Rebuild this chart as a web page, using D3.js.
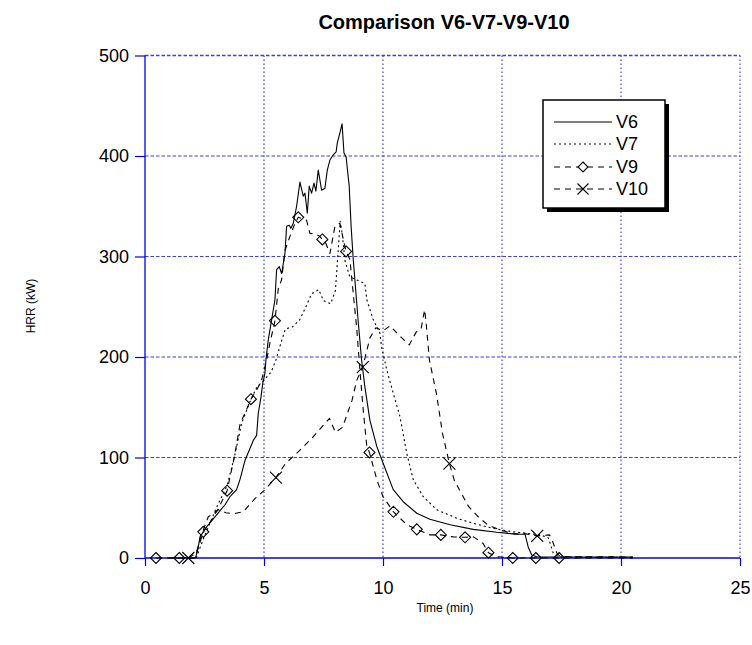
<!DOCTYPE html>
<html>
<head>
<meta charset="utf-8">
<script src="https://cdn.jsdelivr.net/npm/d3@7/dist/d3.min.js"></script>
<style>
  html, body { margin: 0; padding: 0; background: #ffffff; }
  svg { display: block; font-family: "Liberation Sans", Arial, Helvetica, sans-serif; }
</style>
</head>
<body>
<svg id="chart" width="752" height="645"></svg>
<script>
// Heat release rate histories (time in min, HRR in kW)
const v6Time = [1.0, 2.1, 2.14, 2.24, 2.31, 2.59, 3.01, 3.36, 3.57, 3.85, 3.99, 4.2, 4.41, 4.55, 4.69, 4.76, 4.86, 4.95, 5.04, 5.08, 5.18, 5.32, 5.39, 5.46, 5.53, 5.64, 5.74, 5.88, 5.95, 6.06, 6.13, 6.23, 6.37, 6.51, 6.65, 6.72, 6.82, 6.9, 7.0, 7.1, 7.18, 7.28, 7.42, 7.56, 7.66, 7.77, 7.91, 8.03, 8.08, 8.19, 8.28, 8.36, 8.45, 8.58, 8.66, 8.75, 8.96, 9.1, 9.24, 9.45, 9.74, 10.01, 10.43, 10.85, 11.42, 11.97, 12.82, 13.79, 14.78, 15.62, 15.97, 16.1, 16.25, 16.46, 20.5];
const v6Value = [0, 0, 1.3, 11, 21, 31, 43, 53, 61, 68, 78, 97, 109, 117, 122, 144, 158, 174, 184, 197, 217, 237, 247, 257, 287, 290, 283, 303, 330, 331, 328, 333, 350, 374, 360, 363, 343, 370, 363, 373, 365, 386, 366, 368, 386, 396, 401, 404, 413, 423, 432, 403, 399, 370, 330, 297, 235, 197, 170, 137, 111, 94, 68, 56, 44.5, 38.5, 33, 28.5, 25.6, 23.6, 23.6, 11, 3, 1.3, 1];

const v7Time = [2.15, 2.5, 3.0, 3.45, 3.75, 4.06, 4.45, 4.7, 5.0, 5.3, 5.5, 5.7, 5.9, 6.2, 6.5, 6.8, 7.0, 7.3, 7.5, 7.8, 8.0, 8.1, 8.2, 8.3, 8.4, 8.6, 8.96, 9.24, 9.32, 9.59, 9.87, 9.94, 10.16, 10.43, 10.71, 11.0, 11.27, 11.69, 12.26, 13.1, 13.8, 14.63, 15.47, 16.04, 16.6, 16.95, 17.15, 17.4, 20.5];
const v7Value = [0, 22, 50, 72, 100, 134, 158, 170, 177, 185, 197, 213, 228, 230, 237, 252, 263, 267, 256, 253, 266, 300, 335, 320, 296, 280, 276, 273, 257, 237, 224, 210, 187, 164, 141, 104, 78, 61, 48, 39.5, 34.5, 29.5, 26, 24.6, 23, 20, 5, 1, 0.5];

const v9Time = [0.46, 1.44, 2.1, 2.45, 2.8, 3.1, 3.45, 3.75, 4.0, 4.2, 4.45, 4.69, 4.9, 5.11, 5.25, 5.46, 5.6, 5.74, 5.88, 6.09, 6.3, 6.44, 6.79, 6.93, 7.2, 7.35, 7.45, 7.6, 7.77, 7.98, 8.19, 8.35, 8.45, 8.61, 8.75, 8.89, 9.03, 9.17, 9.32, 9.43, 9.74, 10.0, 10.44, 11.0, 11.42, 11.97, 12.43, 12.95, 13.45, 13.8, 14.2, 14.43, 14.78, 15.45, 16.42, 17.4, 20.5];
const v9Value = [0, 0, 0, 26, 38, 50, 67, 100, 134, 144, 158, 167, 177, 197, 214, 236, 268, 277, 306, 320, 333, 339, 336, 323, 322, 320, 317, 313, 303, 330, 333, 315, 305, 297, 263, 230, 187, 147, 111, 105, 78, 61, 46, 33, 28.5, 23, 23, 21, 20.6, 21, 14.6, 5.3, 1.3, 0, 0, 0, 0];
const v9MarkerTimes = [0.46, 1.44, 2.45, 3.45, 4.45, 5.46, 6.44, 7.45, 8.45, 9.43, 10.44, 11.42, 12.43, 13.45, 14.43, 15.45, 16.42, 17.4];

const v10Time = [1.82, 2.15, 2.4, 2.66, 3.08, 3.4, 3.71, 4.13, 4.62, 5.04, 5.5, 5.9, 6.5, 7.0, 7.6, 7.75, 8.0, 8.3, 8.7, 8.9, 9.15, 9.45, 9.7, 10.0, 10.3, 10.7, 11.1, 11.4, 11.6, 11.75, 11.8, 11.95, 12.25, 12.5, 12.79, 13.0, 13.3, 13.6, 14.0, 14.4, 14.9, 15.5, 16.0, 16.48, 17.0, 17.15, 17.3, 17.45, 20.5];
const v10Value = [0, 5, 25, 41, 48, 45, 44, 46, 59, 68, 80, 94, 107, 119, 135, 139, 125, 130, 157, 177, 190, 219, 229, 226, 231, 221, 212, 225, 228, 247, 237, 197, 163, 124, 94, 77, 64, 51, 41, 33, 28, 24, 24, 22, 23, 15, 5, 1.3, 1];
const v10MarkerTimes = [1.82, 5.5, 9.15, 12.79, 16.48];

const xTicks = [0, 5, 10, 15, 20, 25];
const yTicks = [0, 100, 200, 300, 400, 500];
const seriesNames = ["V6", "V7", "V9", "V10"];

const svg = d3.select("#chart");
const plot = { left: 145, right: 740, top: 55.5, bottom: 558 };
const x = d3.scaleLinear().domain([0, 25]).range([plot.left, plot.right]);
const y = d3.scaleLinear().domain([0, 500]).range([plot.bottom, plot.top]);
const axisBlue = "#0000ee";
const gridBlue = "#3a3aff";

// grid
const grid = svg.append("g");
grid.selectAll("line.vg").data(xTicks.filter(t => t > 0)).join("line")
  .attr("x1", d => x(d)).attr("x2", d => x(d))
  .attr("y1", plot.top).attr("y2", plot.bottom)
  .attr("stroke", gridBlue).attr("stroke-width", 1.2)
  .attr("stroke-dasharray", "1.5,2.5");
grid.selectAll("line.hg").data(yTicks.filter(t => t > 0)).join("line")
  .attr("x1", plot.left).attr("x2", plot.right)
  .attr("y1", d => y(d)).attr("y2", d => y(d))
  .attr("stroke", gridBlue).attr("stroke-width", d => d === 500 ? 1.6 : 1.1)
  .attr("stroke-dasharray", "3.5,2");

// axes
const fontSize = 18;
const yAxis = svg.append("g").attr("transform", `translate(${plot.left},0)`)
  .call(d3.axisLeft(y).tickValues(yTicks).tickSize(10).tickPadding(6).tickFormat(d3.format("d")));
const xAxis = svg.append("g").attr("transform", `translate(0,${plot.bottom})`)
  .call(d3.axisBottom(x).tickValues(xTicks).tickSize(8).tickPadding(15).tickFormat(d3.format("d")));
[yAxis, xAxis].forEach(g => {
  g.select(".domain").attr("stroke", axisBlue).attr("stroke-width", 1.3);
  g.selectAll(".tick line").attr("stroke", axisBlue).attr("stroke-width", 1.2);
  g.selectAll(".tick text").attr("fill", "#000").style("font-size", fontSize + "px")
    .style("font-family", '"Liberation Sans", Arial, sans-serif');
});
xAxis.select(".domain").attr("d", `M${plot.left},0H${plot.right}`);
yAxis.select(".domain").attr("d", `M0,${plot.bottom}V${plot.top}`);

// series
const line = d3.line().x(d => x(d[0])).y(d => y(d[1]));
const zip = (t, v) => t.map((d, i) => [d, v[i]]);
const v6 = zip(v6Time, v6Value), v7 = zip(v7Time, v7Value), v9 = zip(v9Time, v9Value), v10 = zip(v10Time, v10Value);
const styles = {
  V6: { dash: null },
  V7: { dash: "2,3" },
  V9: { dash: "6,5" },
  V10: { dash: "6,5" }
};
const series = [["V6", v6], ["V7", v7], ["V9", v9], ["V10", v10]];
const g = svg.append("g");
series.forEach(([name, data]) => {
  g.append("path").datum(data).attr("d", line)
    .attr("fill", "none").attr("stroke", "#000").attr("stroke-width", 1.1)
    .attr("stroke-dasharray", styles[name].dash)
    .attr("stroke-linejoin", "round");
});

const diamond = (cx, cy, r) => `M${cx},${cy - r}L${cx + r},${cy}L${cx},${cy + r}L${cx - r},${cy}Z`;
const cross = (cx, cy, r) => `M${cx - r},${cy - r}L${cx + r},${cy + r}M${cx - r},${cy + r}L${cx + r},${cy - r}`;

g.selectAll("path.v9m").data(v9.filter(d => v9MarkerTimes.includes(d[0]))).join("path")
  .attr("d", d => diamond(x(d[0]), y(d[1]), 5.5))
  .attr("fill", "none").attr("stroke", "#000").attr("stroke-width", 1.1);
g.selectAll("path.v10m").data(v10.filter(d => v10MarkerTimes.includes(d[0]))).join("path")
  .attr("d", d => cross(x(d[0]), y(d[1]), 6))
  .attr("fill", "none").attr("stroke", "#000").attr("stroke-width", 1.1);

// legend
const lg = svg.append("g");
const box = { x: 543, y: 100, w: 122, h: 108 };
lg.append("rect").attr("x", box.x + 4).attr("y", box.y + 4).attr("width", box.w).attr("height", box.h).attr("fill", "#000");
lg.append("rect").attr("x", box.x).attr("y", box.y).attr("width", box.w).attr("height", box.h)
  .attr("fill", "#fff").attr("stroke", "#000").attr("stroke-width", 1.5);
const rowY = [122, 144, 167, 189];
seriesNames.forEach((name, i) => {
  lg.append("line").attr("x1", 554).attr("x2", 612).attr("y1", rowY[i]).attr("y2", rowY[i])
    .attr("stroke", "#000").attr("stroke-width", 1.1).attr("stroke-dasharray", styles[name].dash);
  if (name === "V9") {
    lg.append("path").attr("d", diamond(583, rowY[i], 5)).attr("fill", "#fff").attr("stroke", "#000").attr("stroke-width", 1.1);
  }
  if (name === "V10") {
    lg.append("path").attr("d", cross(583, rowY[i], 5.5)).attr("fill", "none").attr("stroke", "#000").attr("stroke-width", 1.1);
  }
  lg.append("text").attr("x", 616).attr("y", rowY[i]).attr("dy", "0.35em")
    .style("font-size", fontSize + "px").text(name);
});

// titles
svg.append("text").attr("x", 444).attr("y", 29).attr("text-anchor", "middle")
  .style("font-size", "20px").style("font-weight", "bold").text("Comparison V6-V7-V9-V10");
svg.append("text").attr("x", 445).attr("y", 612).attr("text-anchor", "middle")
  .style("font-size", "12px").text("Time (min)");
svg.append("text").attr("transform", "translate(35,306) rotate(-90)").attr("text-anchor", "middle")
  .style("font-size", "12px").text("HRR (kW)");
</script>
</body>
</html>
